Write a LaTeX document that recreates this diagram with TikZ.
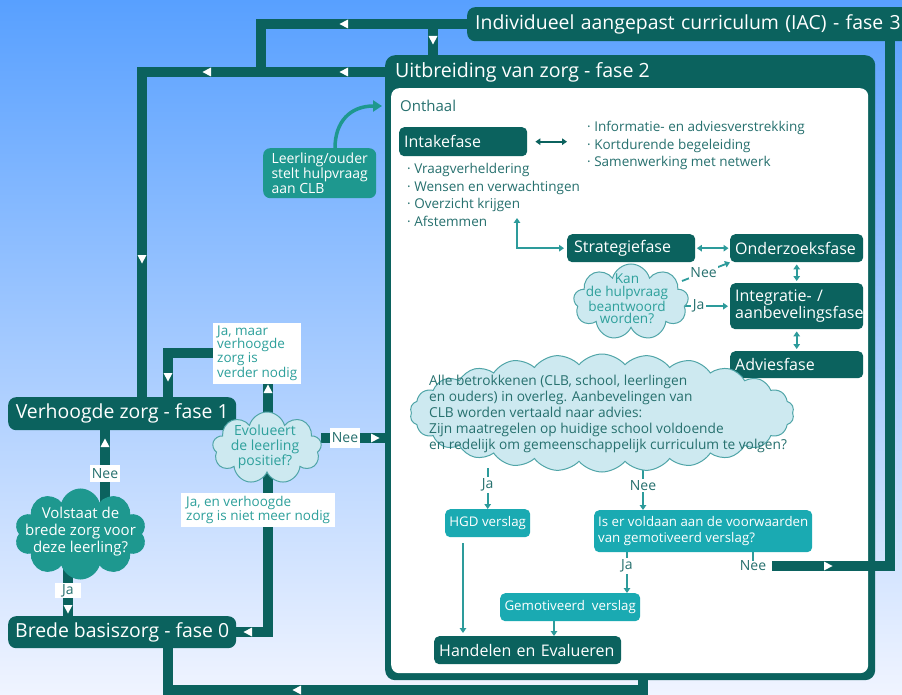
\documentclass[tikz,border=0pt]{standalone}
\usepackage{fontspec}
\setmainfont{Open Sans}
\usetikzlibrary{arrows.meta, shapes.symbols}

\definecolor{donker}{RGB}{11,98,94}
\definecolor{midden}{RGB}{30,152,143}
\definecolor{licht}{RGB}{26,170,178}
\definecolor{lijn}{RGB}{45,155,155}
\definecolor{wolkvul}{RGB}{205,233,240}
\definecolor{wolkrand}{RGB}{80,165,168}
\definecolor{tekst}{RGB}{45,160,155}
\definecolor{tekstdonker}{RGB}{38,112,110}
\definecolor{bgboven}{RGB}{88,160,255}
\definecolor{bgonder}{RGB}{240,244,255}

\pgfdeclarelayer{grond}
\pgfdeclarelayer{achter}
\pgfsetlayers{grond,achter,main}

\begin{document}
\begin{tikzpicture}[x=1pt, y=-1pt,
  flow/.style={donker, line width=10},
  titel/.style={fill=donker, text=white, rounded corners=8, anchor=north west, font=\fontsize{19.4}{23}\selectfont},
  fase/.style={fill=donker, text=white, rounded corners=5, anchor=north west, align=left, inner xsep=5, font=\fontsize{16}{17}\selectfont},
  lichtbox/.style={fill=licht, text=white, rounded corners=5, anchor=north west, font=\fontsize{13.3}{16}\selectfont},
  wolk/.style={cloud, cloud puffs=#1, cloud ignores aspect, draw=wolkrand, fill=wolkvul, line width=1, inner sep=0},
  klein/.style={text=tekstdonker, align=left, inner sep=0, font=\fontsize{13.5}{17.5}\selectfont},
  keuze/.style={fill=white, text=tekstdonker, inner sep=1.5, font=\fontsize{14}{16}\selectfont},
  dun/.style={lijn, line width=1.8},
  dunpijl/.style={dun, -{Triangle[length=5pt,width=6.5pt]}},
  dubbel/.style={dun, {Triangle[length=5pt,width=6.5pt]}-{Triangle[length=5pt,width=6.5pt]}},
  wpijl/.pic={\fill[white] (4.5,0) -- (-4,4.5) -- (-4,-4.5) -- cycle;}
]
  \useasboundingbox (0,0) rectangle (902,695);

  % achtergrond en kader fase 2
  \begin{pgfonlayer}{grond}
    \shade[top color=bgboven, bottom color=bgonder] (0,0) rectangle (902,695);
    \node[fill=donker, rounded corners=10, anchor=north west, inner sep=0, minimum width=490, minimum height=625] (fase2) at (385,55) {};
    \node[fill=white, rounded corners=8, anchor=north west, inner sep=0, minimum width=477, minimum height=585] (fase2wit) at (391,88) {};
  \end{pgfonlayer}
  \node[anchor=west, text=white, inner sep=0, font=\fontsize{19.6}{23}\selectfont] (titel2) at (395,72) {Uitbreiding van zorg - fase 2};

  % fasen buiten
  \node[titel, minimum height=34, text width=450, align=left, inner xsep=8] (iac) at (467,7) {Individueel aangepast curriculum (IAC) - fase 3};
  \node[titel, minimum width=228, minimum height=33] (verhoogd) at (8,397) {Verhoogde zorg - fase 1};
  \node[titel, minimum width=228, minimum height=32] (brede) at (8,616) {Brede basiszorg - fase 0};

  \node[fill=midden, text=white, rounded corners=7, anchor=north west, minimum width=113, minimum height=50, align=left, font=\fontsize{14}{13.5}\selectfont] (hulpvraag) at (263,148) {Leerling/ouder\\stelt hulpvraag\\aan CLB};

  % wolken links
  \node[wolk=9, minimum width=109, minimum height=72] (evol) at (267,448) {};
  \node[text=tekst, align=center, inner sep=0, font=\fontsize{14}{15}\selectfont] (evoltekst) at (265,447) {Evolueert\\de leerling\\positief?};
  \node[wolk=10, fill=midden, draw=midden, minimum width=131, minimum height=90] (volstaat) at (80.5,534) {};
  \node[text=white, align=center, inner sep=0, font=\fontsize{15}{17}\selectfont] (volstaattekst) at (80.5,532) {Volstaat de\\brede zorg voor\\deze leerling?};

  % labels op de lijnen
  \node[keuze, text=tekst, anchor=north west, align=left, inner xsep=4, inner ysep=3, font=\fontsize{13.5}{13}\selectfont] (javerder) at (213,323) {Ja, maar\\verhoogde\\zorg is\\verder nodig};
  \node[keuze, text=tekst, anchor=north west, align=left, inner xsep=5, inner ysep=3, font=\fontsize{13.5}{13}\selectfont] (janiet) at (181,493) {Ja, en verhoogde\\zorg is niet meer nodig};
  \node[keuze, minimum width=30, minimum height=20] (neeevol) at (345,438) {Nee};
  \node[keuze, minimum width=26, minimum height=17] (neevolstaat) at (105,473.5) {Nee};
  \node[keuze, minimum width=26, minimum height=15] (javolstaat) at (68,590.5) {Ja};

  % binnen fase 2
  \node[klein, anchor=west, font=\fontsize{15}{17}\selectfont] (onthaal) at (400,106) {Onthaal};
  \node[fase, minimum height=29, text width=118] (intake) at (399,127) {Intakefase};
  \node[klein, anchor=west] (intakelijst) at (407,195) {· Vraagverheldering\\· Wensen en verwachtingen\\· Overzicht krijgen\\· Afstemmen};
  \node[klein, anchor=west] (hulplijst) at (587,145.5) {· Informatie- en adviesverstrekking\\· Kortdurende begeleiding\\· Samenwerking met netwerk};

  \node[fase, minimum height=28, text width=114, inner xsep=7] (strategie) at (567,234) {Strategiefase};
  \node[fase, minimum height=28, text width=123] (onderzoek) at (730,234) {Onderzoeksfase};
  \node[fase, minimum height=46, text width=123] (integratie) at (730,283) {Integratie- /\\aanbevelingsfase};
  \node[fase, minimum height=27, text width=123] (advies) at (730,351) {Adviesfase};

  \node[wolk=9, minimum width=115, minimum height=76] (kan) at (631,302) {};
  \node[text=tekst, align=center, inner sep=0, font=\fontsize{13.6}{12.8}\selectfont] (kantekst) at (627,299) {Kan\\de hulpvraag\\beantwoord\\worden?};

  \node[wolk=26, cloud puff arc=100, minimum width=384, minimum height=118] (overleg) at (602,413) {};
  \node[klein, anchor=west, font=\fontsize{13.7}{16}\selectfont] (overlegtekst) at (429,414) {Alle betrokkenen (CLB, school, leerlingen\\en ouders) in overleg. Aanbevelingen van\\CLB worden vertaald naar advies:\\Zijn maatregelen op huidige school voldoende\\en redelijk om gemeenschappelijk curriculum te volgen?};

  \node[lichtbox, minimum width=85, minimum height=28] (hgd) at (445,509) {HGD verslag};
  \node[lichtbox, minimum height=42, minimum width=218, align=left, inner xsep=3] (voldaan) at (594,510) {Is er voldaan aan de voorwaarden\\van gemotiveerd verslag?};
  \node[lichtbox, minimum width=140, minimum height=28] (gemotiveerd) at (500,593) {Gemotiveerd~ verslag};
  \node[fase, minimum height=28, text width=177] (handelen) at (434,636) {Handelen en Evalueren};
  \node[klein, font=\fontsize{14}{16}\selectfont] (neevoldaan) at (753,566) {Nee};

  % verbindingen
  \begin{pgfonlayer}{achter}
    \draw[flow] (iac.west) -| (261,72);
    \draw[flow] (433,0 |- iac.west) -- (433,0 |- fase2.north);
    \draw[flow] (fase2.west |- titel2) -| (142,0 |- verhoogd.north);
    \draw[flow] (javerder.west) -| (168,0 |- verhoogd.north);
    \draw[flow] (268,0 |- javerder.south) |- (brede.east);
    \draw[flow] (evol.east |- neeevol) -- (fase2.west |- neeevol);
    \draw[flow] (105,0 |- verhoogd.south) -- (105,0 |- volstaat.center);
    \draw[flow] (68,0 |- volstaat.center) -- (68,0 |- brede.north);
    \draw[flow] (643,0 |- fase2.south) |- (168,690) -- (168,0 |- brede.south);
    \draw[flow] ([xshift=6]neevoldaan.east) -- (890,0 |- neevoldaan) -- (890,0 |- iac.south);

    \draw[midden, line width=3.5, -{Triangle[length=9pt,width=11pt]}] (335,0 |- hulpvraag.north) .. controls (335,122) and (350,106) .. ([xshift=-18]onthaal.west);

    \draw[dubbel, donker, line width=2, shorten <=8, shorten >=20] (intake.east) -- (hulplijst.west |- intake.east);
    \draw[dubbel, shorten >=3] (517,218) |- (strategie.west);
    \draw[dubbel, shorten <=1.5, shorten >=1.5] (strategie) -- (onderzoek);
    \draw[dubbel, shorten <=2, shorten >=2] (onderzoek) -- (integratie);
    \draw[dubbel, shorten <=2, shorten >=2] (integratie) -- (advies);
    \draw[dubbel] (advies.south west) ++(26,4) -- ++(-8,22);

    \draw[dunpijl] (682,281) -- node[keuze, pos=0.45] (neekan) {Nee} (onderzoek.south west);
    \draw[dunpijl, shorten >=2] (684,0 |- integratie.west) -- node[keuze, pos=0.32] (jakan) {Ja} (integratie.west);

    \draw[dunpijl] (hgd.north |- 0,468) -- node[keuze, pos=0.41] (jaoverleg) {Ja} (hgd.north);
    \draw[dunpijl] (643,468) -- node[keuze, pos=0.41] (neeoverleg) {Nee} (643,0 |- voldaan.north);
    \draw[dunpijl] (627,0 |- voldaan.south) -- node[keuze, pos=0.34] (javoldaan) {Ja} (627,0 |- gemotiveerd.north);
    \draw[dun] (neevoldaan.north |- voldaan.south) -- (neevoldaan.north);
    \draw[dunpijl, shorten <=6, shorten >=3] (463,0 |- hgd.south) -- (463,0 |- handelen.north);
    \draw[dunpijl] (554,0 |- gemotiveerd.south) -- (554,0 |- handelen.north);
  \end{pgfonlayer}

  % pijlpunten op de dikke lijnen
  \pic[rotate=180] at (344,24) {wpijl};
  \pic[rotate=-90] at (433,40) {wpijl};
  \pic[rotate=180] at (344,72) {wpijl};
  \pic[rotate=180] at (207,72) {wpijl};
  \pic[rotate=-90] at (142,259) {wpijl};
  \pic[rotate=-90] at (168,377) {wpijl};
  \pic[rotate=90] at (268,389) {wpijl};
  \pic at (375,438) {wpijl};
  \pic[rotate=90] at (105,443) {wpijl};
  \pic[rotate=-90] at (68,609) {wpijl};
  \pic[rotate=180] at (248,632) {wpijl};
  \pic[rotate=180] at (297,690) {wpijl};
  \pic at (828,566) {wpijl};
\end{tikzpicture}
\end{document}
